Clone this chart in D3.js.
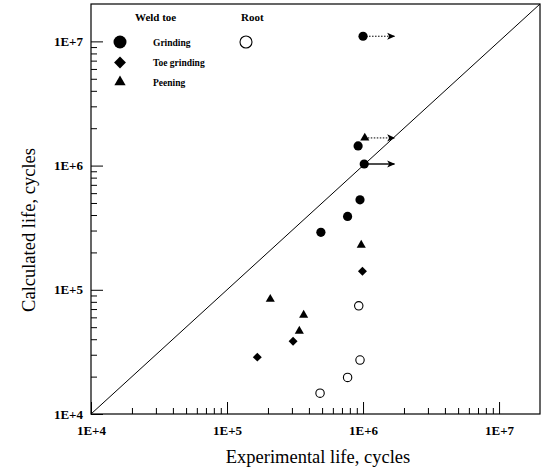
<!DOCTYPE html>
<html>
<head>
<meta charset="utf-8">
<script src="https://cdn.jsdelivr.net/npm/d3@7"></script>
<style>
  body { margin: 0; background: #fff; }
  svg { display: block; }
  .tick text { font-family: "Liberation Serif", "Times New Roman", serif; font-weight: bold; font-size: 13px; }
  .legend text { font-family: "Liberation Serif", "Times New Roman", serif; font-weight: bold; }
  .title { font-family: "Liberation Serif", "Times New Roman", serif; font-size: 18.5px; }
</style>
</head>
<body>
<svg id="chart" width="542" height="468"></svg>
<script>
// experimental life (x) and calculated life (y), cycles
const grindingExp = [1.0e6, 9.2e5, 1.02e6, 9.5e5, 7.7e5, 4.9e5];
const grindingCalc = [1.10e7, 1.44e6, 1.03e6, 5.3e5, 3.9e5, 2.9e5];

const toeGrindingExp = [9.9e5, 3.06e5, 1.67e5];
const toeGrindingCalc = [1.41e5, 3.85e4, 2.87e4];

const peeningExp = [1.03e6, 9.7e5, 2.08e5, 3.66e5, 3.40e5];
const peeningCalc = [1.67e6, 2.29e5, 8.4e4, 6.26e4, 4.65e4];

const rootExp = [9.3e5, 9.5e5, 7.7e5, 4.83e5];
const rootCalc = [7.43e4, 2.72e4, 1.97e4, 1.47e4];

// run-outs (test stopped), arrow drawn to the right
const runOutExp = [1.0e6, 1.03e6, 1.02e6];
const runOutCalc = [1.10e7, 1.67e6, 1.03e6];
const runOutTo = [1.7e6, 1.7e6, 1.7e6];
const runOutDotted = [true, true, false];

const majorTicks = [1e4, 1e5, 1e6, 1e7];
const tickLabels = ['1E+4', '1E+5', '1E+6', '1E+7'];
const axisDomain = [1e4, 2e7];

const margin = { top: 4, right: 2, bottom: 54, left: 91 };
const width = 542 - margin.left - margin.right;
const height = 468 - margin.top - margin.bottom;

const svg = d3.select('#chart');
const g = svg.append('g').attr('transform', `translate(${margin.left},${margin.top})`);

const x = d3.scaleLog().domain(axisDomain).range([0, width]);
const y = d3.scaleLog().domain(axisDomain).range([height, 0]);

// minor ticks 2..9 in every decade
const minorTicks = [];
majorTicks.forEach(m => {
  for (let k = 2; k <= 9; k++) {
    if (m * k < axisDomain[1]) minorTicks.push(m * k);
  }
});

const fmt = d => tickLabels[majorTicks.indexOf(d)];

g.append('g').attr('transform', `translate(0,${height})`)
  .call(d3.axisBottom(x).tickValues(majorTicks).tickFormat(fmt).tickSize(-12).tickPadding(12))
  .call(a => a.select('.domain').remove());
g.append('g').attr('transform', `translate(0,${height})`)
  .call(d3.axisBottom(x).tickValues(minorTicks).tickFormat('').tickSize(-6))
  .call(a => a.select('.domain').remove());

g.append('g')
  .call(d3.axisLeft(y).tickValues(majorTicks).tickFormat(fmt).tickSize(-12).tickPadding(8))
  .call(a => a.select('.domain').remove());
g.append('g')
  .call(d3.axisLeft(y).tickValues(minorTicks).tickFormat('').tickSize(-6))
  .call(a => a.select('.domain').remove());

g.selectAll('.tick line').attr('stroke', '#000').attr('stroke-width', 1);
g.selectAll('.tick text').attr('fill', '#000');

// frame
g.append('rect')
  .attr('x', 0).attr('y', 0)
  .attr('width', width).attr('height', height)
  .attr('fill', 'none').attr('stroke', '#000').attr('stroke-width', 1.2);

// 1:1 line
g.append('line')
  .attr('x1', x(axisDomain[0])).attr('y1', y(axisDomain[0]))
  .attr('x2', x(axisDomain[1])).attr('y2', y(axisDomain[1]))
  .attr('stroke', '#000').attr('stroke-width', 1);

// arrow head
svg.append('defs').append('marker')
  .attr('id', 'head')
  .attr('viewBox', '0 -5 10 10')
  .attr('refX', 9).attr('refY', 0)
  .attr('markerWidth', 10).attr('markerHeight', 8)
  .attr('markerUnits', 'userSpaceOnUse')
  .attr('orient', 'auto')
  .append('path')
  .attr('d', 'M0,-4.5L10,0L0,4.5L2.5,0Z')
  .attr('fill', '#000');

const runOuts = runOutExp.map((e, i) => ({ e, c: runOutCalc[i], to: runOutTo[i], dotted: runOutDotted[i] }));
g.selectAll('.runout')
  .data(runOuts)
  .join('line')
  .attr('class', 'runout')
  .attr('x1', d => x(d.e)).attr('y1', d => y(d.c))
  .attr('x2', d => x(d.to)).attr('y2', d => y(d.c))
  .attr('stroke', '#000')
  .attr('stroke-width', d => d.dotted ? 1 : 1.4)
  .attr('stroke-dasharray', d => d.dotted ? '1.5,1.5' : null)
  .attr('marker-end', 'url(#head)');

const zip = (a, b) => a.map((v, i) => [v, b[i]]);

// grinding
g.selectAll('.grinding')
  .data(zip(grindingExp, grindingCalc))
  .join('circle')
  .attr('class', 'grinding')
  .attr('cx', d => x(d[0])).attr('cy', d => y(d[1]))
  .attr('r', 4.6).attr('fill', '#000');

// toe grinding
g.selectAll('.toe')
  .data(zip(toeGrindingExp, toeGrindingCalc))
  .join('path')
  .attr('class', 'toe')
  .attr('d', d3.symbol(d3.symbolSquare, 40))
  .attr('transform', d => `translate(${x(d[0])},${y(d[1])}) rotate(45)`)
  .attr('fill', '#000');

// peening
g.selectAll('.peening')
  .data(zip(peeningExp, peeningCalc))
  .join('path')
  .attr('class', 'peening')
  .attr('d', d3.symbol(d3.symbolTriangle, 36))
  .attr('transform', d => `translate(${x(d[0])},${y(d[1])})`)
  .attr('fill', '#000');

// root
g.selectAll('.root')
  .data(zip(rootExp, rootCalc))
  .join('circle')
  .attr('class', 'root')
  .attr('cx', d => x(d[0])).attr('cy', d => y(d[1]))
  .attr('r', 4.2).attr('fill', '#fff')
  .attr('stroke', '#000').attr('stroke-width', 1.1);

// legend
const legend = svg.append('g').attr('class', 'legend');
legend.append('text').attr('x', 135).attr('y', 21).attr('font-size', 11).text('Weld toe');
legend.append('text').attr('x', 241).attr('y', 21).attr('font-size', 11).text('Root');

legend.append('circle').attr('cx', 120).attr('cy', 42).attr('r', 6.5).attr('fill', '#000');
legend.append('text').attr('x', 153).attr('y', 45.5).attr('font-size', 9.5).text('Grinding');
legend.append('circle').attr('cx', 246).attr('cy', 42).attr('r', 6)
  .attr('fill', '#fff').attr('stroke', '#000').attr('stroke-width', 1.1);

legend.append('path')
  .attr('d', d3.symbol(d3.symbolSquare, 70))
  .attr('transform', 'translate(120,62.5) rotate(45)');
legend.append('text').attr('x', 153).attr('y', 65.5).attr('font-size', 9.5).text('Toe grinding');

legend.append('path')
  .attr('d', d3.symbol(d3.symbolTriangle, 55))
  .attr('transform', 'translate(120,82)');
legend.append('text').attr('x', 153).attr('y', 85.5).attr('font-size', 9.5).text('Peening');

// axis titles
svg.append('text')
  .attr('class', 'title')
  .attr('x', 318).attr('y', 463)
  .attr('text-anchor', 'middle')
  .text('Experimental life, cycles');

svg.append('text')
  .attr('class', 'title')
  .attr('transform', 'translate(35,230) rotate(-90)')
  .attr('text-anchor', 'middle')
  .text('Calculated life, cycles');
</script>
</body>
</html>
